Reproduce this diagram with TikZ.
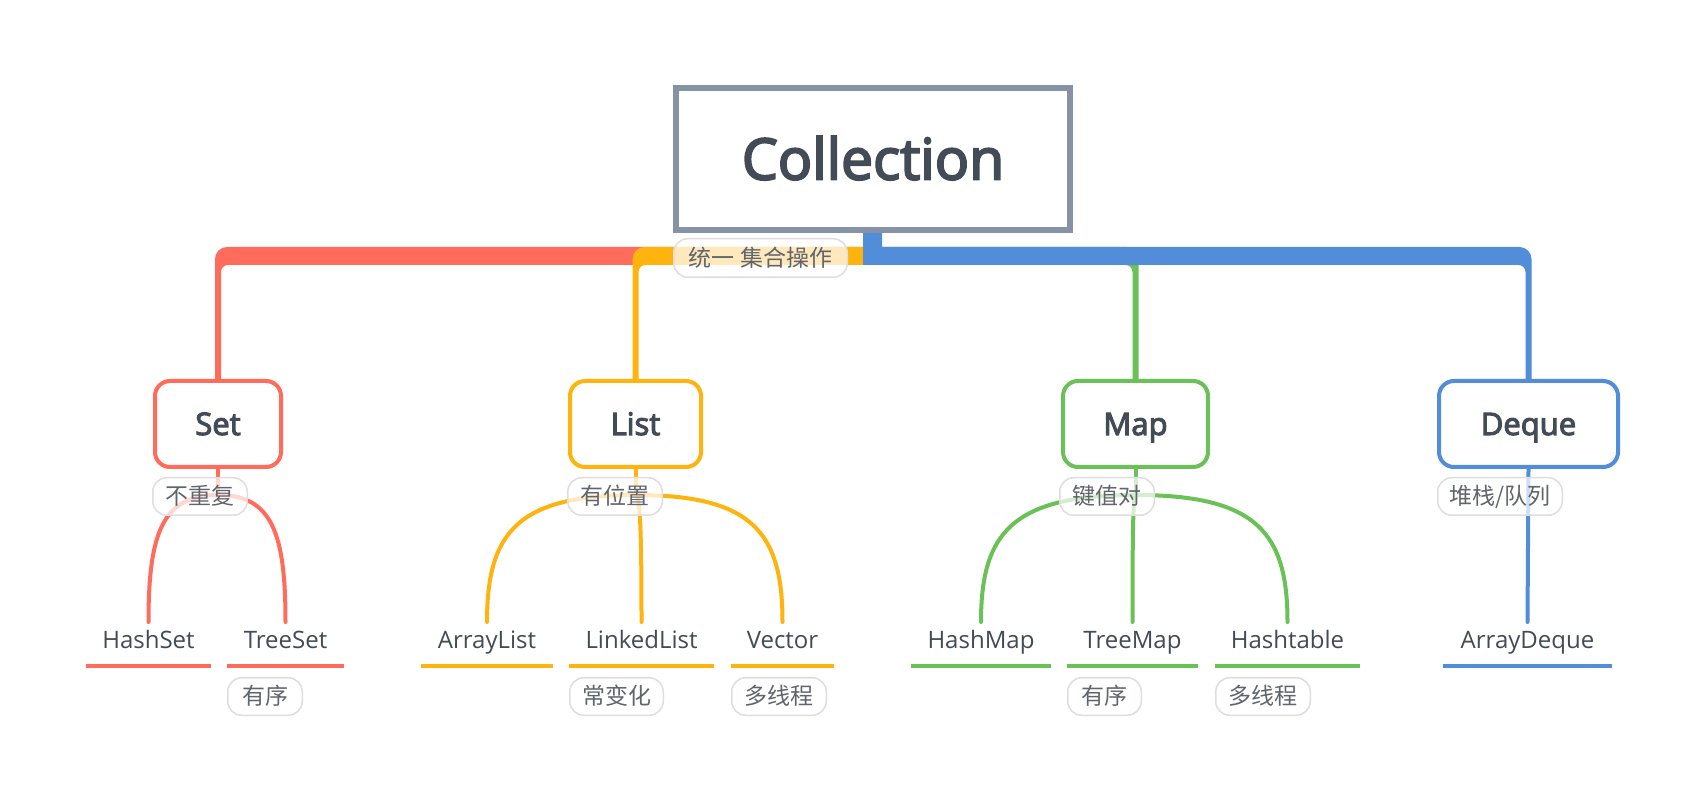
\documentclass[tikz,border=0pt]{standalone}
\usepackage{fontspec}
\setmainfont{Open Sans}
\newfontfamily\semib{Open Sans}[FakeBold=3.5]
\newfontfamily\cjk{Noto Sans CJK SC}
\usetikzlibrary{calc}
\definecolor{cred}{RGB}{255,108,92}
\definecolor{cyel}{RGB}{255,179,15}
\definecolor{cgrn}{RGB}{106,193,86}
\definecolor{cblu}{RGB}{81,141,216}
\definecolor{cgray}{RGB}{134,146,166}
\definecolor{ctext}{RGB}{66,75,86}
\definecolor{cpill}{RGB}{222,222,222}
\definecolor{cptext}{RGB}{96,101,108}
\pgfdeclarelayer{bg}
\pgfsetlayers{bg,main}
\tikzset{
  rootbox/.style={draw=cgray, line width=6pt, fill=white, minimum width=394pt, minimum height=142pt, inner sep=0pt, text=ctext, font=\semib\fontsize{57}{62}\selectfont, text height=41pt, text depth=0pt},
  topicbox/.style={draw=#1, line width=4pt, fill=white, rounded corners=15pt, minimum height=86pt, inner sep=0pt, text=ctext, font=\semib\fontsize{31}{36}\selectfont, text height=22pt, text depth=0pt},
  leaf/.style={minimum height=44pt, inner sep=0pt, outer sep=0pt, text height=17pt, text depth=8pt, text=ctext, font=\fontsize{24}{28}\selectfont},
  uline/.style={draw=#1, line width=4pt},
  pill/.style={draw=cpill, line width=1.5pt, fill=white, fill opacity=0.72, text opacity=1, rounded corners=14pt, minimum height=37.5pt, inner sep=0pt, text=cptext, font=\cjk\fontsize{23}{26}\selectfont, text height=20pt, text depth=3pt},
  subline/.style={draw=#1, line width=4pt, line cap=round},
}
\newcommand\leafcurve[3]{\draw[subline=#1] let \p1=(#2), \p2=(#3.north) in (\p1) .. controls (0.2*\x1+0.8*\x2, \y1) and (\x2, 0.7*\y1+0.3*\y2) .. (\p2);}
\newcommand\lbranch[2]{\fill[#1] let \p1=(#2.north) in (872,554) -- (\x1+9,554) .. controls (\x1+2.4,554) and (\x1-3,548.6) .. (\x1-3,542) -- (\x1-3,\y1-2) -- (\x1+3,\y1-2) -- (\x1+3,529) .. controls (\x1+3,532.9) and (\x1+6.1,536) .. (\x1+10,536) -- (872,536) -- cycle;}
\newcommand\rbranch[2]{\fill[#1] let \p1=(#2.north) in (872,554) -- (\x1-9,554) .. controls (\x1-2.4,554) and (\x1+3,548.6) .. (\x1+3,542) -- (\x1+3,\y1-2) -- (\x1-3,\y1-2) -- (\x1-3,529) .. controls (\x1-3,532.9) and (\x1-6.1,536) .. (\x1-10,536) -- (872,536) -- cycle;}
\begin{document}
\begin{tikzpicture}[x=1pt,y=1pt]
\useasboundingbox (0,0) rectangle (1703,801);
% root
\node[rootbox] (root) at (873,642) {Collection};
\node[pill, minimum width=173.5pt, minimum height=38.5pt] (pall) at (760.5,543) {统一 集合操作};
% topics
\node[topicbox=cred, minimum width=126pt] (set) at (218,377) {Set};
\node[topicbox=cyel, minimum width=131pt] (list) at (635.5,377) {List};
\node[topicbox=cgrn, minimum width=145pt] (map) at (1135.5,377) {Map};
\node[topicbox=cblu, minimum width=179pt] (deque) at (1528.5,377) {Deque};
% topic pills
\node[pill, minimum width=94.5pt] (pset) at (200,304.5) {不重复};
\node[pill, minimum width=94.5pt] (plist) at (615,304.5) {有位置};
\node[pill, minimum width=94.5pt] (pmap) at (1107,304.5) {键值对};
\node[pill, minimum width=124.5pt] (pdeque) at (1500,304.5) {堆栈/队列};
% leaves
\node[leaf, minimum width=125pt] (hashset) at (148.5,157) {HashSet};
\node[leaf, minimum width=117pt] (treeset) at (285.5,157) {TreeSet};
\node[leaf, minimum width=132pt] (arraylist) at (487,157) {ArrayList};
\node[leaf, minimum width=145pt] (linkedlist) at (641.5,157) {LinkedList};
\node[leaf, minimum width=103pt] (vector) at (782.5,157) {Vector};
\node[leaf, minimum width=140pt] (hashmap) at (981,157) {HashMap};
\node[leaf, minimum width=131pt] (treemap) at (1132.5,157) {TreeMap};
\node[leaf, minimum width=145pt] (hashtable) at (1287.5,157) {Hashtable};
\node[leaf, minimum width=169pt] (arraydeque) at (1527.5,157) {ArrayDeque};
% leaf pills
\node[pill, minimum width=74.5pt] (ptreeset) at (265,104.5) {有序};
\node[pill, minimum width=93.5pt] (plinked) at (616.5,104.5) {常变化};
\node[pill, minimum width=94.5pt] (pvector) at (779,104.5) {多线程};
\node[pill, minimum width=73.5pt] (ptreemap) at (1104.5,104.5) {有序};
\node[pill, minimum width=94.5pt] (phashtable) at (1263,104.5) {多线程};
\begin{pgfonlayer}{bg}
\fill[white] (0,0) rectangle (1703,801);
% main branches
\lbranch{cred}{set}
\lbranch{cyel}{list}
\rbranch{cgrn}{map}
\fill[cblu] let \p1=(deque.north), \p2=(root.south) in (863,\y2) -- (882,\y2) -- (882,554) -- (\x1-9,554) .. controls (\x1-2.4,554) and (\x1+3,548.6) .. (\x1+3,542) -- (\x1+3,\y1-2) -- (\x1-3,\y1-2) -- (\x1-3,529) .. controls (\x1-3,532.9) and (\x1-6.1,536) .. (\x1-10,536) -- (863,536) -- cycle;
% forks
\coordinate (fset) at ($(set.south)+(0,-26)$);
\coordinate (flist) at ($(list.south)+(0,-26)$);
\coordinate (fmap) at ($(map.south)+(0,-26)$);
\draw[subline=cred] (set.south) -- (fset);
\draw[subline=cyel] (list.south) -- (flist);
\draw[subline=cgrn] (map.south) -- (fmap);
\leafcurve{cred}{fset}{hashset}
\leafcurve{cred}{fset}{treeset}
\leafcurve{cyel}{flist}{arraylist}
\leafcurve{cyel}{flist}{linkedlist}
\leafcurve{cyel}{flist}{vector}
\leafcurve{cgrn}{fmap}{hashmap}
\leafcurve{cgrn}{fmap}{treemap}
\leafcurve{cgrn}{fmap}{hashtable}
\draw[subline=cblu] (deque.south) -- (arraydeque.north);
% underlines
\draw[uline=cred] (hashset.south west) -- (hashset.south east);
\draw[uline=cred] (treeset.south west) -- (treeset.south east);
\draw[uline=cyel] (arraylist.south west) -- (arraylist.south east);
\draw[uline=cyel] (linkedlist.south west) -- (linkedlist.south east);
\draw[uline=cyel] (vector.south west) -- (vector.south east);
\draw[uline=cgrn] (hashmap.south west) -- (hashmap.south east);
\draw[uline=cgrn] (treemap.south west) -- (treemap.south east);
\draw[uline=cgrn] (hashtable.south west) -- (hashtable.south east);
\draw[uline=cblu] (arraydeque.south west) -- (arraydeque.south east);
\end{pgfonlayer}
\end{tikzpicture}
\end{document}
